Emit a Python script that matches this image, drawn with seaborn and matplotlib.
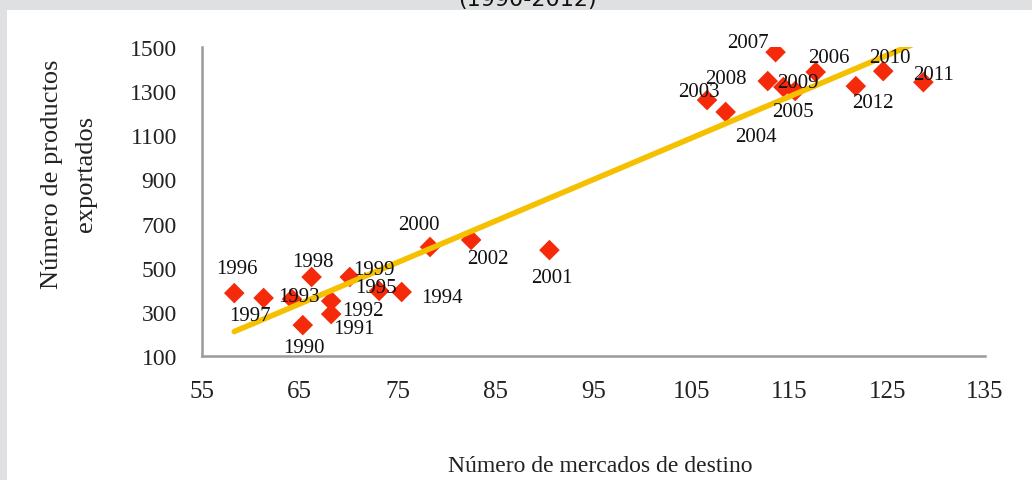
import numpy as np
import pandas as pd
import seaborn as sns
import matplotlib.pyplot as plt
from matplotlib import font_manager
from matplotlib.patches import Rectangle

# Data
years = [1990, 1991, 1992, 1993, 1994, 1995, 1996, 1997, 1998, 1999, 2000, 2001,
         2002, 2003, 2004, 2005, 2006, 2007, 2008, 2009, 2010, 2011, 2012]
mercados = [65.3, 68.2, 68.2, 64.2, 75.4, 73.1, 58.3, 61.3, 66.2, 70.1, 78.3, 90.5,
            82.5, 106.6, 108.5, 115.6, 117.7, 113.6, 112.8, 114.4, 124.6, 128.7, 121.8]
productos = [240, 290, 349, 358, 390, 395, 385, 363, 458, 458, 594, 580,
             626, 1260, 1206, 1301, 1387, 1477, 1346, 1319, 1391, 1341, 1323]
x_ticks = [55, 65, 75, 85, 95, 105, 115, 125, 135]
y_ticks = [100, 300, 500, 700, 900, 1100, 1300, 1500]

# label offsets in pixels (dx, dy up)
label_off = {
    1990: (1, -22), 1991: (23, -14), 1992: (32, -9), 1993: (7, 3), 1994: (40, -5),
    1995: (-3, 3), 1996: (3, 25), 1997: (-14, -18), 1998: (1, 16), 1999: (24, 8),
    2000: (-11, 23), 2001: (2, -27), 2002: (17, -19), 2003: (-8, 9), 2004: (30, -25),
    2005: (-2, -20), 2006: (13, 15), 2007: (-28, 10), 2008: (-42, 3), 2009: (14, 5),
    2010: (7, 14), 2011: (10, 8), 2012: (17, -16),
}

df = pd.DataFrame({'year': years, 'mercados': mercados, 'productos': productos})

sns.set_style('white')
installed = {f.name for f in font_manager.fontManager.ttflist}
serif = 'Liberation Serif'
narrow = 'Liberation Sans Narrow' if 'Liberation Sans Narrow' in installed else serif
plt.rcParams['font.family'] = [serif, 'DejaVu Sans']

fig = plt.figure(figsize=(10.32, 4.81), dpi=100)
fig.patch.set_facecolor('#dfe0e2')
fig.patches.append(Rectangle((7 / 1032, 0), 1, 1 - 11 / 481, transform=fig.transFigure,
                             facecolor='white', edgecolor='none', zorder=-5))

ax = fig.add_axes([0.1957, 0.2578, 0.7588, 0.6422])
ax.set_facecolor('none')
ax.set_zorder(2)

sns.scatterplot(data=df, x='mercados', y='productos', marker='D', s=110,
                color='#f52a0a', edgecolor='none', ax=ax, zorder=2)
sns.regplot(data=df, x='mercados', y='productos', scatter=False, ci=None,
            color='#f5c000', line_kws={'linewidth': 4, 'zorder': 3}, ax=ax)

for yr, xv, yv in zip(years, mercados, productos):
    dx, dy = label_off[yr]
    ax.annotate(str(yr), (xv, yv), xytext=(dx, dy), textcoords='offset pixels',
                ha='center', va='center', fontsize=15, family=serif,
                color='#111111', zorder=4)

ax.set_xlim(55, 135)
ax.set_ylim(100, 1500)
ax.set_xticks(x_ticks)
ax.set_yticks(y_ticks)
ax.set_xticklabels([str(v) for v in x_ticks], fontsize=18, family=narrow, color='#222222')
ax.set_yticklabels([str(v) for v in y_ticks], fontsize=17, family=serif, color='#222222')
ax.tick_params(axis='x', length=0, pad=17)
ax.tick_params(axis='y', length=0, pad=18)
ax.set_xlabel('')
ax.set_ylabel('')

for side in ['top', 'right']:
    ax.spines[side].set_visible(False)
for side in ['left', 'bottom']:
    ax.spines[side].set_color('#9a9a9a')
    ax.spines[side].set_linewidth(1.8)

fig.text(600 / 1032, 1 - 467 / 481, 'Número de mercados de destino', ha='center', va='center',
         fontsize=17, family=narrow, color='#222222')
fig.text(52 / 1032, 1 - 174 / 481, 'Número de productos', rotation=90, ha='center',
         va='center', fontsize=19, family=serif, color='#222222')
fig.text(86 / 1032, 1 - 174 / 481, 'exportados', rotation=90, ha='center',
         va='center', fontsize=19, family=serif, color='#222222')
fig.text(527 / 1032, 1 - 10 / 481, '(1990-2012)', ha='center', va='bottom',
         fontsize=16, family='DejaVu Sans', color='#111111')

fig.savefig('out.png', dpi=100, facecolor=fig.get_facecolor())
